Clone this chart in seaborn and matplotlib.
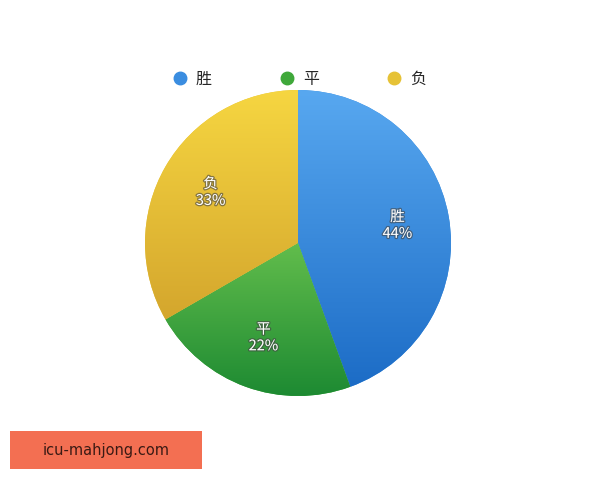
import matplotlib
matplotlib.use('Agg')
import numpy as np
import matplotlib.pyplot as plt
import matplotlib.patheffects as pe
from matplotlib.lines import Line2D
from matplotlib.patches import Rectangle
from matplotlib.colors import LinearSegmentedColormap
import seaborn as sns

sns.set_theme(style='white')
plt.rcParams['font.family'] = ['Noto Sans CJK SC', 'DejaVu Sans']

categories = ['胜', '平', '负']
shares = [44, 22, 33]
colors = ['#3a8de0', '#3fa83a', '#e6c236']
# light (top) / dark (bottom) shade of each slice
tops = ['#58a8f0', '#62bd4c', '#f6d641']
bottoms = ['#1c6cc6', '#1d8a32', '#d4a62d']

fig = plt.figure(figsize=(6, 4.8), dpi=100, facecolor='white')
ax = fig.add_axes([0.2417, 0.175, 0.51, 0.6375])

wedges, texts = ax.pie(shares, colors=colors, startangle=90, counterclock=False,
                       radius=1, labels=[f'{c}\n{v}%' for c, v in zip(categories, shares)],
                       labeldistance=0.66, wedgeprops=dict(linewidth=0),
                       textprops=dict(color='white', fontsize=10.5, ha='center', va='center',
                                      linespacing=1.25))

# vertical gradient on each slice, spanning the slice's own height
grad = np.linspace(1, 0, 256).reshape(-1, 1)
for w, top, bot in zip(wedges, tops, bottoms):
    bb = w.get_path().get_extents()
    cmap = LinearSegmentedColormap.from_list('g', [bot, top])
    im = ax.imshow(grad, cmap=cmap, extent=(-1, 1, bb.y0, bb.y1), aspect='auto',
                   origin='upper', zorder=w.get_zorder() + 0.1)
    im.set_clip_path(w)

for t in texts:
    t.set_horizontalalignment('center')
    t.set_zorder(10)
    t.set_path_effects([pe.withStroke(linewidth=1.8, foreground='#444444', alpha=0.6)])
ax.set_xlim(-1, 1)
ax.set_ylim(-1, 1)
ax.axis('off')

handles = [Line2D([], [], marker='o', linestyle='none', markersize=9,
                  markerfacecolor=c, markeredgecolor=c) for c in colors]
fig.legend(handles, categories, loc='center', bbox_to_anchor=(0.498, 0.835), ncol=3,
           frameon=False, fontsize=11.5, columnspacing=4.2, handletextpad=0.5,
           handlelength=1.0)

fig.patches.append(Rectangle((10 / 600, 1 - 469 / 480), 192 / 600, 38 / 480,
                             transform=fig.transFigure, facecolor='#f36f52',
                             edgecolor='none', zorder=5))
fig.text(106 / 600, 1 - 450 / 480, 'icu-mahjong.com', ha='center', va='center',
         fontsize=10.5, color='#3a1a14', family=['DejaVu Sans'], zorder=6)

fig.savefig('out.png', dpi=100, facecolor='white')
